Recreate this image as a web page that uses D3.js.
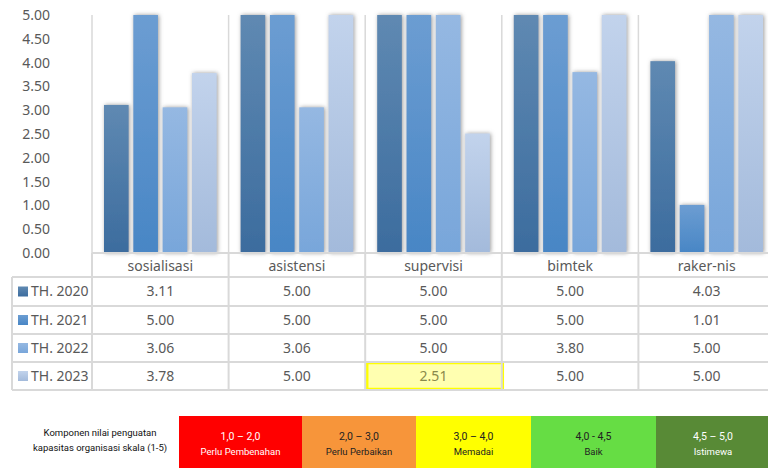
<!DOCTYPE html>
<html lang="en">
<head>
    <meta charset="UTF-8">
    <script src="https://cdn.jsdelivr.net/npm/d3@7"></script>
    <title>Komponen penguatan kapasitas organisasi</title>
    <style>
        html,
        body {
            margin: 0px;
            padding: 0px;
            background-color: #ffffff;
            font-family: "Noto Sans", sans-serif;
            color: #595959;
        }
    </style>
</head>
<body>
    <div id='chart'></div>
    <script>

        // data
        const categories = ['sosialisasi', 'asistensi', 'supervisi', 'bimtek', 'raker-nis'];
        const seriesNames = ['TH. 2020', 'TH. 2021', 'TH. 2022', 'TH. 2023'];
        const th2020 = [3.11, 5.00, 5.00, 5.00, 4.03];
        const th2021 = [5.00, 5.00, 5.00, 5.00, 1.01];
        const th2022 = [3.06, 3.06, 5.00, 3.80, 5.00];
        const th2023 = [3.78, 5.00, 2.51, 5.00, 5.00];
        const yTicks = [0, 0.5, 1, 1.5, 2, 2.5, 3, 3.5, 4, 4.5, 5];
        const scaleRanges = ['1,0 – 2,0', '2,0 – 3,0', '3,0 – 4,0', '4,0 - 4,5', '4,5 – 5,0'];
        const scaleLabels = ['Perlu Pembenahan', 'Perlu Perbaikan', 'Memadai', 'Baik', 'Istimewa'];

        const series = [th2020, th2021, th2022, th2023];
        const colTop = ['#5f89b2', '#6c9dd2', '#95b8e2', '#c2d3ec'];
        const colBottom = ['#3c6c9e', '#4886c5', '#78a6da', '#a3badb'];
        const scaleFill = ['#ff0000', '#f7953a', '#ffff00', '#66dd44', '#588a36'];
        const scaleText = ['#ffffff', '#222', '#222', '#222', '#ffffff'];
        // legend box edges (layout)
        const boxEdges = [179, 302, 416, 531, 656, 770];

        const width = 768, height = 468;
        const grid = '#d9d9d9';

        let svg = d3.select('#chart').append('svg').attr('width', width).attr('height', height);
        let defs = svg.append('defs');

        series.forEach((s, i) => {
            let g = defs.append('linearGradient').attr('id', 'grad' + i)
                .attr('x1', 0).attr('y1', 0).attr('x2', 0).attr('y2', 1);
            g.append('stop').attr('offset', '0%').attr('stop-color', colTop[i]);
            g.append('stop').attr('offset', '100%').attr('stop-color', colBottom[i]);
        });
        defs.append('filter').attr('id', 'shadow')
            .attr('x', '-40%').attr('y', '-10%').attr('width', '180%').attr('height', '120%')
            .append('feDropShadow')
            .attr('dx', 1).attr('dy', 0).attr('stdDeviation', 2.2)
            .attr('flood-color', '#777').attr('flood-opacity', 0.75);

        const x = d3.scaleBand().domain(categories).range([92, 775]);
        const xs = d3.scaleBand().domain(d3.range(series.length)).range([12, x.bandwidth() - 12]).paddingInner(0.16);
        const y = d3.scaleLinear().domain([0, 5]).range([253, 15]);

        // y axis labels
        svg.append('g').selectAll('text')
            .data(yTicks)
            .join('text')
            .attr('x', 50).attr('y', d => y(d))
            .attr('dy', '0.35em')
            .attr('text-anchor', 'end')
            .attr('font-size', 14)
            .attr('fill', '#595959')
            .text(d => d3.format('.2f')(d));

        // category separators in plot
        svg.append('g').selectAll('line')
            .data(categories.concat(['end']))
            .join('line')
            .attr('x1', (d, i) => 92 + i * x.bandwidth())
            .attr('x2', (d, i) => 92 + i * x.bandwidth())
            .attr('y1', 15).attr('y2', 253)
            .attr('stroke', grid).attr('stroke-width', 1.5);

        // bars
        let bars = svg.append('g');
        series.forEach((s, si) => {
            bars.selectAll('rect.s' + si)
                .data(s)
                .join('rect')
                .attr('class', 's' + si)
                .attr('x', (d, i) => x(categories[i]) + xs(si))
                .attr('width', xs.bandwidth())
                .attr('y', d => y(d))
                .attr('height', d => y(0) - y(d))
                .attr('fill', 'url(#grad' + si + ')')
                .attr('filter', 'url(#shadow)');
        });

        // data table
        const rowY = [253, 277, 306, 334, 362, 390];
        let table = svg.append('g');

        // highlighted cell (supervisi, TH. 2023)
        table.append('rect')
            .attr('x', x('supervisi') + 2).attr('y', rowY[4] + 1)
            .attr('width', x.bandwidth() - 1).attr('height', rowY[5] - rowY[4] - 2)
            .attr('fill', '#ffffb0').attr('stroke', '#ffff00').attr('stroke-width', 2.5);

        table.selectAll('line.h')
            .data(rowY)
            .join('line').attr('class', 'h')
            .attr('x1', (d, i) => i < 2 ? 92 : 12).attr('x2', 775)
            .attr('y1', d => d).attr('y2', d => d)
            .attr('stroke', grid).attr('stroke-width', 2);
        table.append('line')
            .attr('x1', 12).attr('x2', 92).attr('y1', rowY[1]).attr('y2', rowY[1])
            .attr('stroke', grid).attr('stroke-width', 2);
        table.append('line')
            .attr('x1', 12).attr('x2', 12).attr('y1', rowY[1]).attr('y2', rowY[5])
            .attr('stroke', grid).attr('stroke-width', 2);
        table.selectAll('line.v')
            .data(d3.range(categories.length + 1))
            .join('line').attr('class', 'v')
            .attr('x1', i => 92 + i * x.bandwidth()).attr('x2', i => 92 + i * x.bandwidth())
            .attr('y1', rowY[0]).attr('y2', rowY[5])
            .attr('stroke', grid).attr('stroke-width', 2);

        // category header
        table.selectAll('text.cat')
            .data(categories)
            .join('text').attr('class', 'cat')
            .attr('x', d => x(d) + x.bandwidth() / 2)
            .attr('y', (rowY[0] + rowY[1]) / 2 + 1)
            .attr('dy', '0.35em')
            .attr('text-anchor', 'middle')
            .attr('font-size', 14)
            .attr('fill', '#595959')
            .text(d => d);

        // series rows
        series.forEach((s, si) => {
            let cy = (rowY[si + 1] + rowY[si + 2]) / 2;
            table.append('rect')
                .attr('x', 18).attr('y', cy - 5).attr('width', 10).attr('height', 10)
                .attr('fill', 'url(#grad' + si + ')');
            table.append('text')
                .attr('x', 31).attr('y', cy).attr('dy', '0.35em')
                .attr('font-size', 14).attr('fill', '#595959')
                .text(seriesNames[si]);
            table.selectAll('text.v' + si)
                .data(s)
                .join('text').attr('class', 'v' + si)
                .attr('x', (d, i) => x(categories[i]) + x.bandwidth() / 2)
                .attr('y', cy).attr('dy', '0.35em')
                .attr('text-anchor', 'middle')
                .attr('font-size', 14)
                .attr('fill', (d, i) => (si === 3 && i === 2) ? '#8a8a4a' : '#595959')
                .text(d => d3.format('.2f')(d));
        });

        // colour scale legend
        let legend = svg.append('g');
        legend.append('text')
            .attr('x', 100).attr('y', 436)
            .attr('text-anchor', 'middle').attr('font-size', 9.5).attr('fill', '#111')
            .attr('font-family', 'Roboto, sans-serif')
            .text('Komponen nilai penguatan');
        legend.append('text')
            .attr('x', 100).attr('y', 451)
            .attr('text-anchor', 'middle').attr('font-size', 9.5).attr('fill', '#111')
            .attr('font-family', 'Roboto, sans-serif')
            .text('kapasitas organisasi skala (1-5)');
        legend.selectAll('rect')
            .data(scaleRanges)
            .join('rect')
            .attr('x', (d, i) => boxEdges[i]).attr('y', 416)
            .attr('width', (d, i) => boxEdges[i + 1] - boxEdges[i]).attr('height', 52)
            .attr('fill', (d, i) => scaleFill[i]);
        legend.selectAll('text.r')
            .data(scaleRanges)
            .join('text').attr('class', 'r')
            .attr('x', (d, i) => (boxEdges[i] + boxEdges[i + 1]) / 2).attr('y', 440)
            .attr('text-anchor', 'middle').attr('font-size', 10.5)
            .attr('font-family', 'Roboto, sans-serif')
            .attr('fill', (d, i) => scaleText[i])
            .text(d => d);
        legend.selectAll('text.l')
            .data(scaleLabels)
            .join('text').attr('class', 'l')
            .attr('x', (d, i) => (boxEdges[i] + boxEdges[i + 1]) / 2).attr('y', 455)
            .attr('text-anchor', 'middle').attr('font-size', 9.5)
            .attr('font-family', 'Roboto, sans-serif')
            .attr('fill', (d, i) => scaleText[i])
            .text(d => d);

    </script>
</body>
</html>
